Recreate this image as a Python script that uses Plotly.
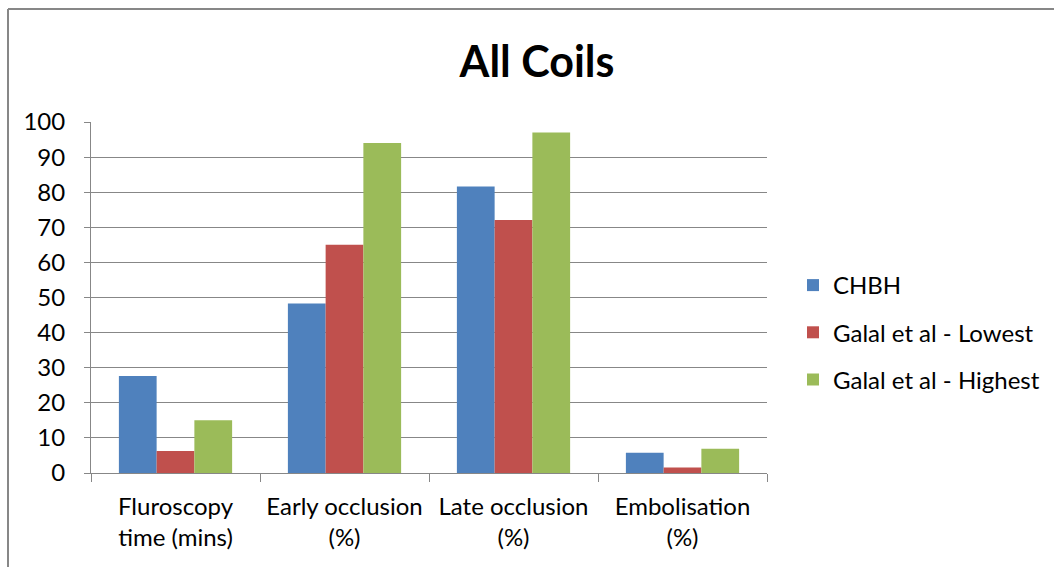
import plotly.graph_objects as go

categories = ["Fluroscopy<br>time (mins)", "Early occlusion<br>(%)", "Late occlusion<br>(%)", "Embolisation<br>(%)"]
chbh = [27.6, 48.3, 81.6, 5.8]
galal_lowest = [6.3, 65.0, 72.1, 1.6]
galal_highest = [15.0, 94.0, 97.0, 6.9]

series = [
    ("CHBH", chbh, "#4F81BD"),
    ("Galal et al - Lowest", galal_lowest, "#C0504D"),
    ("Galal et al - Highest", galal_highest, "#9BBB59"),
]

FONT = "Lato, Calibri, Carlito, sans-serif"

fig = go.Figure()
for i, (name, vals, color) in enumerate(series):
    fig.add_trace(go.Bar(
        name=name, x=categories, y=vals,
        marker=dict(color=color, line=dict(width=0)),
        legendgroup=f"g{i}",
    ))

W, H = 1054, 567
L, R, T, B = 91, 767, 122, 473
fig.update_layout(
    width=W, height=H,
    margin=dict(l=L, r=W - R, t=T, b=H - B, autoexpand=False),
    paper_bgcolor="white", plot_bgcolor="white",
    barmode="group", bargap=0.33, bargroupgap=0,
    font=dict(family=FONT, size=24, color="black"),
    title=dict(text="<b>All Coils</b>", x=(537) / W, xanchor="center",
               y=1 - 62 / H, yanchor="middle", yref="container",
               font=dict(family=FONT, size=43, color="black")),
    legend=dict(xref="container", yref="container", x=793 / W, xanchor="left",
                y=1 - 263 / H, yanchor="top",
                font=dict(family=FONT, size=24), tracegroupgap=13,
                itemwidth=30, bgcolor="rgba(0,0,0,0)"),
    showlegend=True,
)
fig.update_yaxes(
    range=[0, 100], dtick=10, showgrid=True, gridcolor="#878787", gridwidth=1,
    showline=True, linecolor="#878787", linewidth=1,
    ticks="outside", ticklen=6, tickcolor="#878787", zeroline=False,
    tickfont=dict(family=FONT, size=24), ticklabelstandoff=14,
)
fig.update_xaxes(
    showline=True, linecolor="#878787", linewidth=1,
    ticks="outside", ticklen=8, tickcolor="#878787", tickson="boundaries",
    tickfont=dict(family=FONT, size=24), ticklabelstandoff=12,
)

# outer chart frame (top and left edges visible)
fig.add_shape(type="line", xref="paper", yref="paper",
              x0=(8 - L) / (R - L), x1=(W + 5 - L) / (R - L),
              y0=1 + (T - 9) / (B - T), y1=1 + (T - 9) / (B - T),
              line=dict(color="#878787", width=2))
fig.add_shape(type="line", xref="paper", yref="paper",
              x0=(8 - L) / (R - L), x1=(8 - L) / (R - L),
              y0=1 + (T - 9) / (B - T), y1=-(H + 5 - B) / (B - T),
              line=dict(color="#878787", width=2))

fig.write_html("out.html")
